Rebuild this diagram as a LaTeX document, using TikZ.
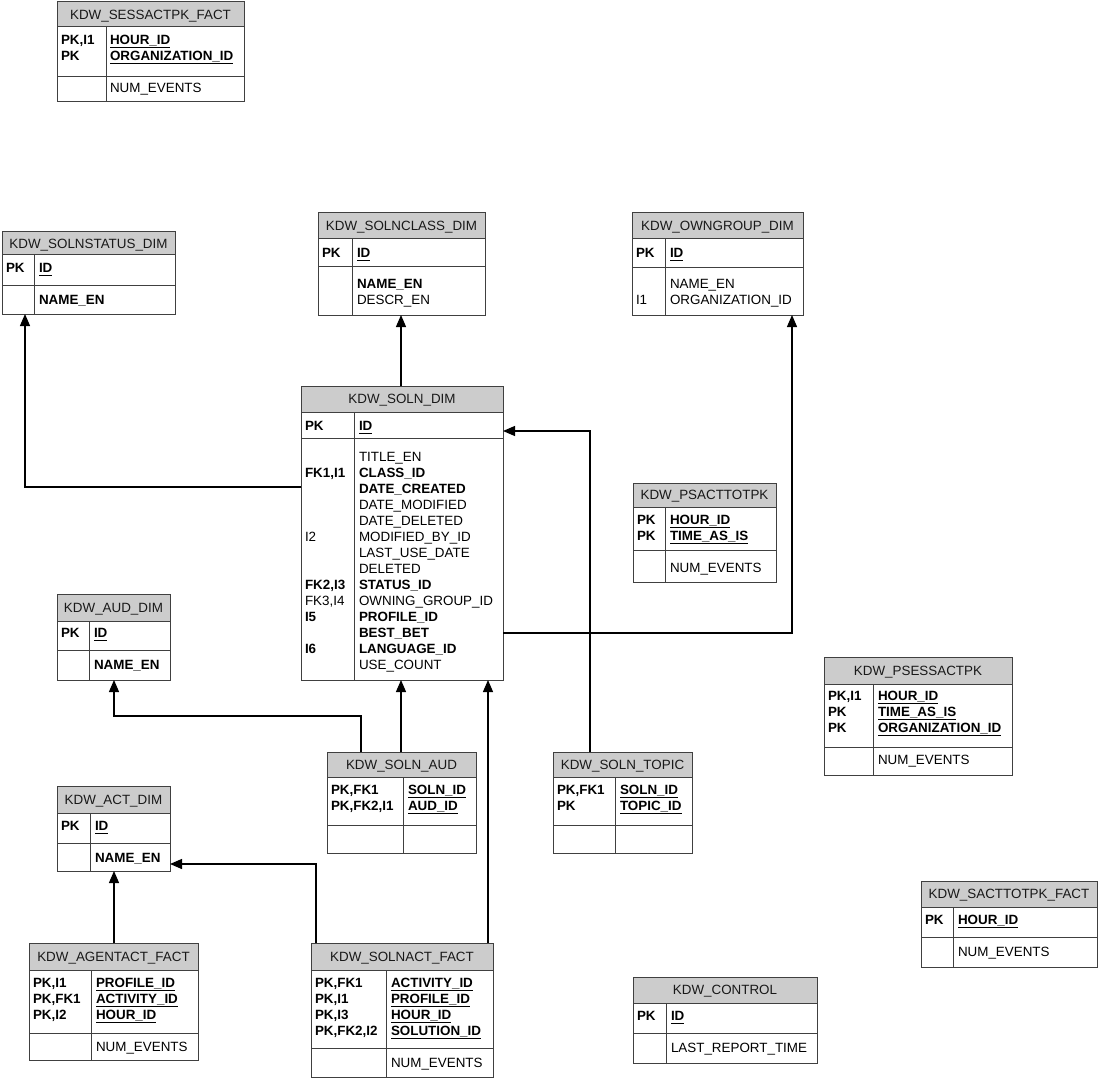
\documentclass[tikz,border=0pt]{standalone}
\usepackage{fontspec}
\setmainfont{Liberation Sans}
\usetikzlibrary{arrows.meta,fit}
\newcounter{cellno}
\newcommand\B[1]{\textbf{#1}}
\newcommand\U[1]{\setbox0\hbox{\bfseries #1}\rlap{\vrule height -1.8pt depth 2.8pt width \wd0}\box0}
\tikzset{
  frame/.style={draw=black!75, line width=1pt},
  hdr/.style={fill=black!20},
  ttl/.style={anchor=base, inner sep=0, outer sep=0, font=\fontsize{13.4}{16}\selectfont, text=black!90},
  cell/.style={anchor=base west, inner sep=0, outer sep=0, font=\fontsize{13.4}{16}\selectfont},
  fk/.style={draw=black, line width=1.3pt, -{Triangle[width=10pt,length=12pt]}},
  tblbox/.style={inner sep=0, outer sep=0}
}
% name, left, right, divider x, top, header bottom, section line, bottom, title
\newcommand\ertbl[9]{%
  \fill[hdr] (#2,-#5) rectangle (#3,-#6);
  \node[ttl] (#1t) at ({(#2+#3)/2},{-(#5+#6)/2-4.8}) {#9};
  \draw[frame] (#2,-#6) -- (#3,-#6) (#2,-#7) -- (#3,-#7) (#4,-#6) -- (#4,-#8);
  \draw[frame] (#2,-#5) rectangle (#3,-#8);
  \node[tblbox, fit={(#2,-#5) (#3,-#8)}] (#1) {};
}
\newcommand\col[3]{\foreach \t [count=\i from 0] in {#3}{\stepcounter{cellno}\node[cell] (c\arabic{cellno}) at (#1,{-(#2+4.9+16*\i)}) {\t};}}
\begin{document}
\begin{tikzpicture}[x=1pt,y=1pt]
\useasboundingbox (0,0) rectangle (1098,-1078);

\ertbl{sess}{57}{244}{106}{2}{27}{77}{102}{KDW\_SESSACTPK\_FACT}
\col{61}{40}{{\B{PK,I1}},{\B{PK}}}
\col{110}{40}{{\U{HOUR\_ID}},{\U{ORGANIZATION\_ID}}}
\col{110}{88}{NUM\_EVENTS}

\ertbl{stat}{2}{175}{34}{232}{255}{285}{314}{KDW\_SOLNSTATUS\_DIM}
\col{6}{268}{\B{PK}} \col{39}{268}{\U{ID}} \col{39}{300}{\B{NAME\_EN}}

\ertbl{cls}{318}{485}{352}{213}{239}{267}{315}{KDW\_SOLNCLASS\_DIM}
\col{322}{253}{\B{PK}} \col{357}{253}{\U{ID}} \col{357}{284}{{\B{NAME\_EN}},{DESCR\_EN}}

\ertbl{own}{632}{803}{665}{213}{239}{268}{315}{KDW\_OWNGROUP\_DIM}
\col{636}{253}{\B{PK}} \col{670}{253}{\U{ID}} \col{670}{284}{{NAME\_EN},{ORGANIZATION\_ID}} \col{636}{300}{I1}

\ertbl{soln}{301}{503}{354}{386}{412}{438}{680}{KDW\_SOLN\_DIM}
\col{305}{426}{\B{PK}} \col{359}{426}{\U{ID}}
\col{359}{457}{{TITLE\_EN},{\B{CLASS\_ID}},{\B{DATE\_CREATED}},{DATE\_MODIFIED},{DATE\_DELETED},{MODIFIED\_BY\_ID},{LAST\_USE\_DATE},{DELETED},{\B{STATUS\_ID}},{OWNING\_GROUP\_ID},{\B{PROFILE\_ID}},{\B{BEST\_BET}},{\B{LANGUAGE\_ID}},{USE\_COUNT}}
\col{305}{473}{\B{FK1,I1}} \col{305}{537}{I2} \col{305}{585}{{\B{FK2,I3}},{FK3,I4},{\B{I5}}} \col{305}{649}{\B{I6}}

\ertbl{psa}{633}{776}{665}{483}{507}{550}{582}{KDW\_PSACTTOTPK}
\col{637}{520}{{\B{PK}},{\B{PK}}} \col{670}{520}{{\U{HOUR\_ID}},{\U{TIME\_AS\_IS}}} \col{670}{568}{NUM\_EVENTS}

\ertbl{pse}{824}{1012}{873}{657}{684}{747}{775}{KDW\_PSESSACTPK}
\col{828}{696}{{\B{PK,I1}},{\B{PK}},{\B{PK}}} \col{878}{696}{{\U{HOUR\_ID}},{\U{TIME\_AS\_IS}},{\U{ORGANIZATION\_ID}}} \col{878}{760}{NUM\_EVENTS}

\ertbl{aud}{57}{170}{89}{594}{621}{650}{680}{KDW\_AUD\_DIM}
\col{61}{633}{\B{PK}} \col{94}{633}{\U{ID}} \col{94}{665}{\B{NAME\_EN}}

\ertbl{saud}{327}{476}{403}{752}{777}{825}{853}{KDW\_SOLN\_AUD}
\col{331}{790}{{\B{PK,FK1}},{\B{PK,FK2,I1}}} \col{408}{790}{{\U{SOLN\_ID}},{\U{AUD\_ID}}}

\ertbl{stop}{553}{692}{615}{752}{777}{825}{853}{KDW\_SOLN\_TOPIC}
\col{557}{790}{{\B{PK,FK1}},{\B{PK}}} \col{620}{790}{{\U{SOLN\_ID}},{\U{TOPIC\_ID}}}

\ertbl{act}{57}{170}{90}{786}{813}{843}{871}{KDW\_ACT\_DIM}
\col{61}{826}{\B{PK}} \col{95}{826}{\U{ID}} \col{95}{858}{\B{NAME\_EN}}

\ertbl{agt}{29}{198}{91}{943}{970}{1033}{1060}{KDW\_AGENTACT\_FACT}
\col{33}{983}{{\B{PK,I1}},{\B{PK,FK1}},{\B{PK,I2}}} \col{96}{983}{{\U{PROFILE\_ID}},{\U{ACTIVITY\_ID}},{\U{HOUR\_ID}}} \col{96}{1047}{NUM\_EVENTS}

\ertbl{sact}{311}{493}{386}{943}{970}{1048}{1077}{KDW\_SOLNACT\_FACT}
\col{315}{983}{{\B{PK,FK1}},{\B{PK,I1}},{\B{PK,I3}},{\B{PK,FK2,I2}}} \col{391}{983}{{\U{ACTIVITY\_ID}},{\U{PROFILE\_ID}},{\U{HOUR\_ID}},{\U{SOLUTION\_ID}}} \col{391}{1063}{NUM\_EVENTS}

\ertbl{stot}{921}{1097}{953}{881}{907}{937}{967}{KDW\_SACTTOTPK\_FACT}
\col{925}{920}{\B{PK}} \col{958}{920}{\U{HOUR\_ID}} \col{958}{952}{NUM\_EVENTS}

\ertbl{ctl}{633}{817}{666}{977}{1003}{1033}{1063}{KDW\_CONTROL}
\col{637}{1016}{\B{PK}} \col{671}{1016}{\U{ID}} \col{671}{1048}{LAST\_REPORT\_TIME}

% connectors
\coordinate (k1) at (25,-487);
\draw[fk] (soln.west |- k1) -| (stat.south -| k1);
\coordinate (k2) at (401,0);
\draw[fk] (soln.north -| k2) -- (cls.south -| k2);
\coordinate (k3) at (792,-633);
\draw[fk] (soln.east |- k3) -| (own.south -| k3);
\coordinate (k4) at (590,-431);
\draw[fk] (stop.north -| k4) |- (soln.east |- k4);
\coordinate (k5) at (401,0);
\draw[fk] (saud.north -| k5) -- (soln.south -| k5);
\coordinate (k6) at (361,-716);
\coordinate (k6b) at (114,0);
\draw[fk] (saud.north -| k6) |- (k6b |- k6) -- (aud.south -| k6b);
\coordinate (k7) at (488,0);
\draw[fk] (sact.north -| k7) -- (soln.south -| k7);
\coordinate (k8) at (316,-864);
\draw[fk] (sact.north -| k8) |- (act.east |- k8);
\coordinate (k9) at (114,0);
\draw[fk] (agt.north -| k9) -- (act.south -| k9);
\end{tikzpicture}
\end{document}
